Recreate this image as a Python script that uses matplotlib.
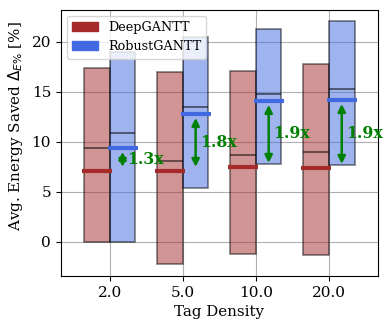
import matplotlib
matplotlib.use('Agg')
import matplotlib.pyplot as plt
from matplotlib.patches import Patch
import numpy as np

densities = ['2.0', '5.0', '10.0', '20.0']

# DeepGANTT: min, max, median, mean
deep_min = [0.0, -2.2, -1.2, -1.3]
deep_max = [17.4, 17.0, 17.1, 17.8]
deep_median = [9.4, 8.1, 8.7, 9.0]
deep_mean = [7.1, 7.1, 7.5, 7.4]

# RobustGANTT: min, max, median, mean
robust_min = [0.0, 5.4, 7.8, 7.7]
robust_max = [19.0, 20.5, 21.3, 22.1]
robust_median = [10.9, 13.5, 14.8, 15.3]
robust_mean = [9.4, 12.8, 14.1, 14.2]

ratios = ['1.3x', '1.8x', '1.9x', '1.9x']

plt.rcParams['font.family'] = 'DejaVu Serif'

red = 'brown'
blue = 'royalblue'
w = 0.35

fig = plt.figure(figsize=(3.9, 3.28), dpi=100)
ax = fig.add_axes([0.156, 0.159, 0.813, 0.812])
ax.set_axisbelow(True)
ax.grid(True, color='#b0b0b0', lw=0.8)

x = np.arange(len(densities))
heights_d = np.array(deep_max) - np.array(deep_min)
heights_r = np.array(robust_max) - np.array(robust_min)
ax.bar(x - w / 2, heights_d, w, bottom=deep_min, color=red, alpha=0.5,
       edgecolor='black', lw=1.2)
ax.bar(x + w / 2, heights_r, w, bottom=robust_min, color=blue, alpha=0.5,
       edgecolor='black', lw=1.2)

for i in range(len(densities)):
    ax.hlines(deep_median[i], x[i] - w, x[i], color='black', alpha=0.6, lw=1.2)
    ax.hlines(robust_median[i], x[i], x[i] + w, color='black', alpha=0.6, lw=1.2)
    ax.hlines(deep_mean[i], x[i] - w - 0.03, x[i] + 0.03, color=red, lw=3)
    ax.hlines(robust_mean[i], x[i] - 0.03, x[i] + w + 0.03, color=blue, lw=3)
    xa = x[i] + w / 2
    ax.annotate('', xy=(xa, robust_mean[i] - 0.4), xytext=(xa, deep_mean[i] + 0.4),
                arrowprops=dict(arrowstyle='<|-|>', color='green', lw=1.8,
                                mutation_scale=11, shrinkA=0, shrinkB=0))
    ax.text(xa + 0.06, (deep_mean[i] + robust_mean[i]) / 2, ratios[i],
            color='green', fontweight='bold', fontsize=11.3, va='center', ha='left')

ax.set_xticks(x)
ax.set_xticklabels(densities, fontsize=11)
ax.tick_params(axis='y', labelsize=11)
ax.set_xlim(-0.67, 3.67)
ax.set_ylim(-3.4, 23.25)
ax.set_yticks([0, 5, 10, 15, 20])
ax.set_xlabel('Tag Density', fontsize=10.8)
ax.set_ylabel(r'Avg. Energy Saved $\Delta_{E\%}$ [%]', fontsize=10.9)
ax.yaxis.set_label_coords(-0.112, 0.562)

handles = [Patch(color=red, label='DeepGANTT'), Patch(color=blue, label='RobustGANTT')]
ax.legend(handles=handles, loc='upper left', fontsize=9.2)

fig.savefig('out.png', dpi=100)
